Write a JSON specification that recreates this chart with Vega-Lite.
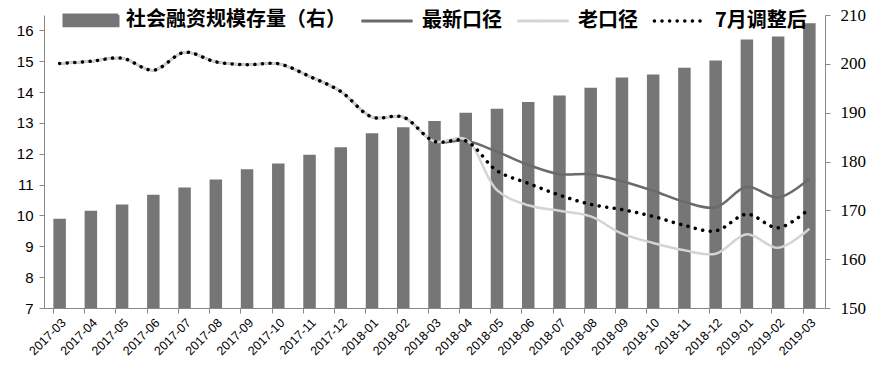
{
  "$schema": "https://vega.github.io/schema/vega-lite/v6.json",
  "width": 781,
  "height": 293,
  "autosize": {"type": "none"},
  "padding": {"left": 44, "top": 15, "right": 50, "bottom": 61},
  "background": "white",
  "config": {"view": {"stroke": null}, "font": "Liberation Sans"},
  "data": {"values": [
    {"month": "2017-03", "social": 168.3, "newest": 14.93, "old": 14.93, "adj": 14.93},
    {"month": "2017-04", "social": 169.9, "newest": 15.0, "old": 15.0, "adj": 15.0},
    {"month": "2017-05", "social": 171.2, "newest": 15.1, "old": 15.1, "adj": 15.1},
    {"month": "2017-06", "social": 173.2, "newest": 14.71, "old": 14.71, "adj": 14.71},
    {"month": "2017-07", "social": 174.7, "newest": 15.29, "old": 15.29, "adj": 15.29},
    {"month": "2017-08", "social": 176.3, "newest": 14.98, "old": 14.98, "adj": 14.98},
    {"month": "2017-09", "social": 178.4, "newest": 14.89, "old": 14.89, "adj": 14.89},
    {"month": "2017-10", "social": 179.6, "newest": 14.92, "old": 14.92, "adj": 14.92},
    {"month": "2017-11", "social": 181.4, "newest": 14.51, "old": 14.51, "adj": 14.51},
    {"month": "2017-12", "social": 182.9, "newest": 14.02, "old": 14.02, "adj": 14.02},
    {"month": "2018-01", "social": 185.8, "newest": 13.19, "old": 13.19, "adj": 13.19},
    {"month": "2018-02", "social": 187.0, "newest": 13.19, "old": 13.19, "adj": 13.19},
    {"month": "2018-03", "social": 188.3, "newest": 12.4, "old": 12.4, "adj": 12.4},
    {"month": "2018-04", "social": 190.0, "newest": 12.42, "old": 12.47, "adj": 12.42},
    {"month": "2018-05", "social": 190.8, "newest": 12.07, "old": 10.82, "adj": 11.45},
    {"month": "2018-06", "social": 192.2, "newest": 11.64, "old": 10.33, "adj": 11.04},
    {"month": "2018-07", "social": 193.5, "newest": 11.34, "old": 10.15, "adj": 10.66},
    {"month": "2018-08", "social": 195.1, "newest": 11.34, "old": 9.97, "adj": 10.36},
    {"month": "2018-09", "social": 197.2, "newest": 11.11, "old": 9.41, "adj": 10.19},
    {"month": "2018-10", "social": 197.8, "newest": 10.8, "old": 9.11, "adj": 9.97},
    {"month": "2018-11", "social": 199.2, "newest": 10.44, "old": 8.87, "adj": 9.68},
    {"month": "2018-12", "social": 200.7, "newest": 10.26, "old": 8.76, "adj": 9.5},
    {"month": "2019-01", "social": 205.0, "newest": 10.93, "old": 9.39, "adj": 10.04},
    {"month": "2019-02", "social": 205.6, "newest": 10.58, "old": 8.95, "adj": 9.6},
    {"month": "2019-03", "social": 208.3, "newest": 11.19, "old": 9.57, "adj": 10.22}
  ]},
  "encoding": {
    "x": {
      "field": "month", "type": "ordinal",
      "scale": {"paddingInner": 0.6, "paddingOuter": 0.3},
      "axis": {
        "title": null, "labelAngle": -45, "labelAlign": "right", "labelBaseline": "top",
        "labelFont": "Liberation Sans", "labelFontSize": 12.5,
        "labelColor": "#000", "domainColor": "#888", "tickColor": "#888", "tickSize": 5,
        "bandPosition": 0, "labelPadding": 3
      }
    }
  },
  "layer": [
    {
      "mark": {"type": "bar"},
      "encoding": {
        "y": {
          "field": "social", "type": "quantitative",
          "scale": {"domain": [150, 210], "nice": false, "zero": false},
          "axis": {
            "orient": "right", "title": null, "values": [150, 160, 170, 180, 190, 200, 210],
            "labelFont": "Liberation Serif", "labelFontSize": 17, "labelColor": "#000", "labelOverlap": false,
            "domainColor": "#888", "tickColor": "#888", "tickSize": 5, "labelPadding": 10, "grid": false
          }
        },
        "y2": {"datum": 150},
        "color": {
          "datum": "社会融资规模存量（右）", "type": "nominal",
          "scale": {
            "domain": ["社会融资规模存量（右）", "最新口径", "老口径", "7月调整后"],
            "range": ["#767676", "#6a6a6a", "#d4d4d4", "#000000"]
          },
          "legend": {
            "orient": "none", "legendX": 20, "legendY": -5, "direction": "horizontal",
            "title": null, "padding": 0, "labelFont": "Noto Sans CJK SC", "labelFontSize": 20,
            "labelFontWeight": "bold", "labelColor": "#000", "columnPadding": 9,
            "labelLimit": 400,
            "encode": {
              "symbols": {
                "update": {
                  "x": {"value": 27},
                  "shape": {"signal": "datum.value === '社会融资规模存量（右）' ? 'M-1,-0.2H1V0.2H-1Z' : 'M-0.95,0H0.95'"},
                  "size": {"value": 2916},
                  "fill": {"signal": "datum.value === '社会融资规模存量（右）' ? '#767676' : 'transparent'"},
                  "stroke": {"signal": "datum.value === '社会融资规模存量（右）' ? 'transparent' : (datum.value === '最新口径' ? '#6a6a6a' : (datum.value === '老口径' ? '#d4d4d4' : '#000000'))"},
                  "strokeWidth": {"signal": "datum.value === '7月调整后' ? 3.5 : 3"},
                  "strokeDash": {"signal": "datum.value === '7月调整后' ? [0.1, 7.5] : [1, 0]"},
                  "strokeCap": {"signal": "datum.value === '7月调整后' ? 'round' : 'butt'"},
                  "opacity": {"value": 1}
                }
              },
              "labels": {
                "update": {
                  "x": {"value": 62},
                  "align": {"value": "left"}
                }
              }
            }
          }
        }
      }
    },
    {
      "layer": [
        {
          "mark": {"type": "line", "interpolate": "catmull-rom", "strokeWidth": 2.5},
          "encoding": {
            "y": {
              "field": "newest", "type": "quantitative",
              "scale": {"domain": [7, 16.5], "nice": false, "zero": false},
              "axis": {
                "orient": "left", "title": null, "values": [7, 8, 9, 10, 11, 12, 13, 14, 15, 16],
                "labelFont": "Liberation Sans", "labelFontSize": 15, "labelColor": "#000", "labelOverlap": false,
                "domainColor": "#888", "tickColor": "#888", "tickSize": 5, "labelPadding": 6, "grid": false
              }
            },
            "color": {"datum": "最新口径", "type": "nominal"}
          }
        },
        {
          "mark": {"type": "line", "interpolate": "catmull-rom", "strokeWidth": 2.5},
          "encoding": {
            "y": {
              "field": "old", "type": "quantitative",
              "axis": {
                "orient": "left", "title": null, "values": [7, 8, 9, 10, 11, 12, 13, 14, 15, 16],
                "labelFont": "Liberation Sans", "labelFontSize": 15, "labelColor": "#000", "labelOverlap": false,
                "domainColor": "#888", "tickColor": "#888", "tickSize": 5, "labelPadding": 6, "grid": false
              }
            },
            "color": {"datum": "老口径", "type": "nominal"}
          }
        },
        {
          "mark": {"type": "line", "interpolate": "catmull-rom", "strokeWidth": 3.5, "strokeDash": [0.1, 7.5], "strokeCap": "round"},
          "encoding": {
            "y": {
              "field": "adj", "type": "quantitative",
              "axis": {
                "orient": "left", "title": null, "values": [7, 8, 9, 10, 11, 12, 13, 14, 15, 16],
                "labelFont": "Liberation Sans", "labelFontSize": 15, "labelColor": "#000", "labelOverlap": false,
                "domainColor": "#888", "tickColor": "#888", "tickSize": 5, "labelPadding": 6, "grid": false
              }
            },
            "color": {"datum": "7月调整后", "type": "nominal"}
          }
        }
      ]
    }
  ],
  "resolve": {"scale": {"y": "independent"}}
}
